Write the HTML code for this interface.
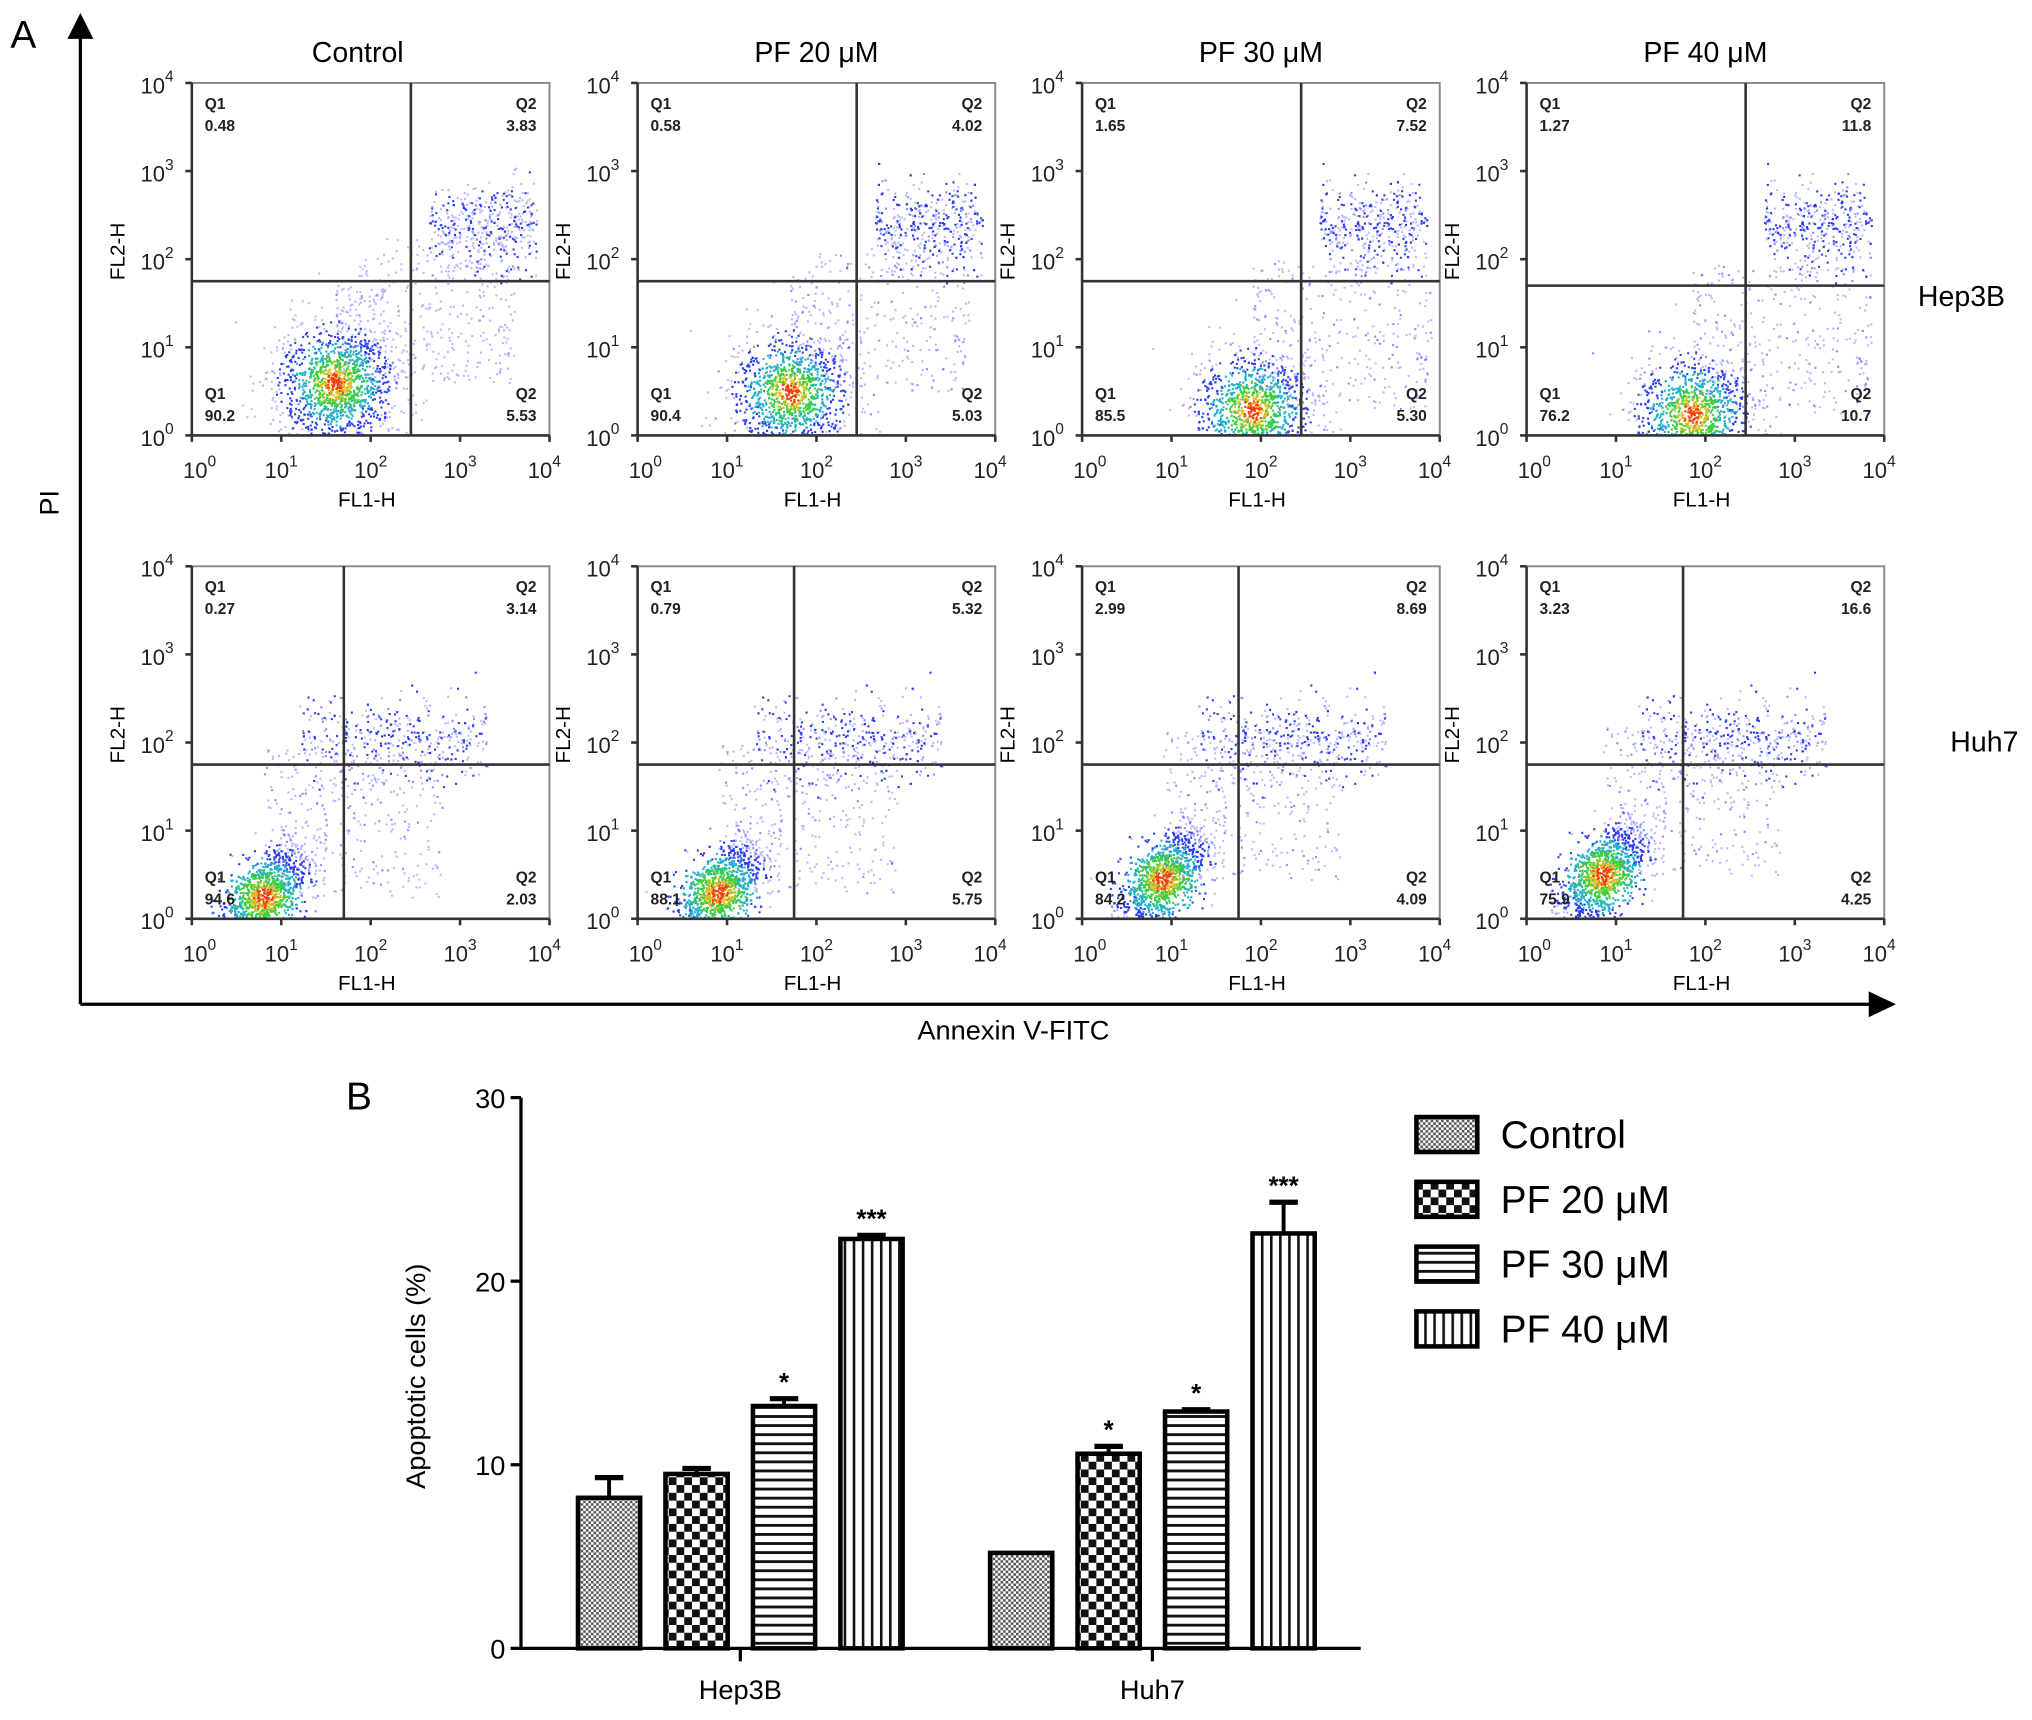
<!DOCTYPE html>
<html><head><meta charset="utf-8">
<style>
html,body{margin:0;padding:0;background:#fff;}
svg{display:block;font-family:"Liberation Sans",sans-serif;}
</style></head>
<body>
<svg id="fig" width="2032" height="1720" viewBox="0 0 1568 1327.3" xmlns="http://www.w3.org/2000/svg">
<defs>
<pattern id="pCtrl" width="4" height="4" patternUnits="userSpaceOnUse"><rect width="4" height="4" fill="#fff"/><rect width="2" height="2" fill="#555"/><rect x="2" y="2" width="2" height="2" fill="#555"/></pattern>
<pattern id="p20" width="12" height="12" patternUnits="userSpaceOnUse"><rect width="12" height="12" fill="#fff"/><rect width="6" height="6" fill="#111"/><rect x="6" y="6" width="6" height="6" fill="#111"/></pattern>
<pattern id="p30" width="8" height="7" patternUnits="userSpaceOnUse"><rect width="8" height="7" fill="#fff"/><rect y="0" width="8" height="2.2" fill="#111"/></pattern>
<pattern id="p40" width="7" height="8" patternUnits="userSpaceOnUse"><rect width="7" height="8" fill="#fff"/><rect x="0" width="2" height="8" fill="#111"/></pattern>
</defs>
<g id="panelA"></g>
<g id="panelB"></g>
</svg>
<script>
// ---------- Panel A data ----------
const conditions = ["Control","PF 20 \u03bcM","PF 30 \u03bcM","PF 40 \u03bcM"];
const cellLines = ["Hep3B","Huh7"];
const q1Upper = [["0.48","0.58","1.65","1.27"],["0.27","0.79","2.99","3.23"]];
const q2Upper = [["3.83","4.02","7.52","11.8"],["3.14","5.32","8.69","16.6"]];
const q1Lower = [["90.2","90.4","85.5","76.2"],["94.6","88.1","84.2","75.9"]];
const q2Lower = [["5.53","5.03","5.30","10.7"],["2.03","5.75","4.09","4.25"]];
// gate positions in log10 units
const gateX = [[2.45,2.45,2.45,2.45],[1.7,1.75,1.75,1.75]];
const gateY = [[1.75,1.75,1.75,1.7],[1.75,1.75,1.75,1.75]];
// main population centre (log10)
const popX = [[1.6,1.7,1.9,1.85],[0.8,0.9,0.9,0.85]];
const popY = [[0.6,0.5,0.3,0.25],[0.25,0.3,0.45,0.5]];
// ---------- Panel B data ----------
const groups = ["Hep3B","Huh7"];
const series = ["Control","PF 20 \u03bcM","PF 30 \u03bcM","PF 40 \u03bcM"];
const means = [[8.2,9.5,13.2,22.3],[5.2,10.6,12.9,22.6]];
const errs = [[1.1,0.3,0.4,0.2],[0.0,0.4,0.1,1.7]];
const stars = [["","","*","***"],["","*","*","***"]];
const yTicks = [0,10,20,30];

const NS="http://www.w3.org/2000/svg";
function mk(tag,attrs,parent,text){const e=document.createElementNS(NS,tag);for(const k in attrs)e.setAttribute(k,attrs[k]);if(text!==undefined)e.textContent=text;parent.appendChild(e);return e;}

const A=document.getElementById('panelA');
let ax=mk('line',{x1:62,y1:775,x2:62,y2:28,stroke:'#000','stroke-width':2.5},A);


mk('polygon',{points:'52,30 72,30 62,10',fill:'#000'},A);
ax=mk('line',{x1:62,y1:775,x2:1445,y2:775,stroke:'#000','stroke-width':2.5},A);


mk('polygon',{points:'1442,765 1442,785 1463,775',fill:'#000'},A);
let t=mk('text',{x:8,y:37,'font-size':30},A,'A');


t=mk('text',{x:45,y:388,'font-size':21,transform:'rotate(-90 45 388)','text-anchor':'middle'},A,'PI');


t=mk('text',{x:782,y:802,'font-size':21,'text-anchor':'middle'},A,'Annexin V-FITC');



const colLeft=[148,492,835,1178], boxW=276;
const rowTop=[64,437], boxH=272;
let seed=12345;function rnd(){seed=(seed*1103515245+12345)%2147483648;return seed/2147483648;}
function gauss(){let u=rnd()||1e-6,v=rnd();return Math.sqrt(-2*Math.log(u))*Math.cos(2*Math.PI*v);}
function heat(d){
  if(d<0.25)return 'rgba(80,80,255,0.4)';
  if(d<0.5)return '#2a3cf0';
  if(d<0.7)return '#22b0c8';
  if(d<0.85)return '#3ccf3c';
  if(d<0.95)return '#e0c020';
  return '#f04010';
}
for(let r=0;r<2;r++){
  t=mk('text',{x:r?1505:1480,y:r?580:236,'font-size':22},A,cellLines[r]);
  
  
  for(let c=0;c<4;c++){
    const L=colLeft[c],T=rowTop[r];
    const g=mk('g',{},A);
    
    
    const sx=v=>L+v/4*boxW, sy=v=>T+boxH-v/4*boxH;
    if(r===0){
      t=mk('text',{x:L+boxW/2-(c?0:10),y:48,'font-size':22,'text-anchor':'middle'},A,conditions[c]);
      
      
    }
    const dots=mk('g',{},g);
    const N=2200;
    for(let i=0;i<N;i++){
      let x,y,dens;
      const k=rnd();
      if(k<0.62){const s=(r===0?0.33:0.3);x=popX[r][c]+gauss()*s*(r?0.8:1);y=popY[r][c]+gauss()*s*(r?0.8:1);if(r)y+=(x-popX[r][c])*0.6;
        const dd=Math.hypot(x-popX[r][c],y-popY[r][c])/s;dens=Math.max(0,1-dd/2.4)+rnd()*0.15;}
      else if(k<0.82){x=gateX[r][c]+0.2+rnd()*1.2;y=(r?2.05:2.4)+gauss()*0.25;dens=rnd()*0.45;if(r){x=popX[r][c]+0.4+rnd()*2.1;}}
      else {x=popX[r][c]+rnd()*2;y=popY[r][c]+rnd()*1.7;if(!r)y=Math.min(y,x-0.5+rnd()*0.6);dens=rnd()*0.2;}
      if(x<0.05||x>3.95||y<0.02||y>3.95)continue;
      mk('rect',{x:sx(x).toFixed(1),y:sy(y).toFixed(1),width:1.6,height:1.6,fill:heat(dens)},dots);
    }
    mk('rect',{x:L,y:T,width:boxW,height:boxH,fill:'none',stroke:'#888','stroke-width':1.5},g);
    mk('line',{x1:L,y1:T,x2:L,y2:T+boxH,stroke:'#333','stroke-width':2},g);
    mk('line',{x1:L,y1:T+boxH,x2:L+boxW,y2:T+boxH,stroke:'#333','stroke-width':2},g);
    let gl=mk('line',{x1:sx(gateX[r][c]),y1:T,x2:sx(gateX[r][c]),y2:T+boxH,stroke:'#333','stroke-width':2},g);
    
    
    gl=mk('line',{x1:L,y1:sy(gateY[r][c]),x2:L+boxW,y2:sy(gateY[r][c]),stroke:'#333','stroke-width':2},g);
    
    
    for(let d=0;d<=4;d++){
      mk('line',{x1:L-5,y1:sy(d),x2:L,y2:sy(d),stroke:'#333','stroke-width':2},g);
      mk('line',{x1:sx(d),y1:T+boxH,x2:sx(d),y2:T+boxH+5,stroke:'#333','stroke-width':2},g);
      let tl=mk('text',{x:L-14,y:sy(d)+8,'font-size':17,'text-anchor':'end',fill:'#222'},g);
      tl.innerHTML='10<tspan dy="-9" font-size="12">'+d+'</tspan>';
      tl=mk('text',{x:sx(d)+(d===0?6:d===4?-4:0),y:T+boxH+33,'font-size':17,'text-anchor':'middle',fill:'#222'},g);
      tl.innerHTML='10<tspan dy="-9" font-size="12">'+d+'</tspan>';
    }
    mk('text',{x:L+boxW/2-3,y:T+boxH+55,'font-size':16,'text-anchor':'middle'},g,'FL1-H');
    mk('text',{x:L-52,y:T+130,'font-size':16,'text-anchor':'middle',transform:'rotate(-90 '+(L-52)+' '+(T+130)+')'},g,'FL2-H');
    const fs={'font-size':12,'font-weight':'bold',fill:'#222'};
    mk('text',Object.assign({x:L+10,y:T+20},fs),g,'Q1');
    mk('text',Object.assign({x:L+10,y:T+37},fs),g,q1Upper[r][c]);
    mk('text',Object.assign({x:L+boxW-10,y:T+20,'text-anchor':'end'},fs),g,'Q2');
    mk('text',Object.assign({x:L+boxW-10,y:T+37,'text-anchor':'end'},fs),g,q2Upper[r][c]);
    mk('text',Object.assign({x:L+10,y:T+boxH-28},fs),g,'Q1');
    mk('text',Object.assign({x:L+10,y:T+boxH-11},fs),g,q1Lower[r][c]);
    mk('text',Object.assign({x:L+boxW-10,y:T+boxH-28,'text-anchor':'end'},fs),g,'Q2');
    mk('text',Object.assign({x:L+boxW-10,y:T+boxH-11,'text-anchor':'end'},fs),g,q2Lower[r][c]);
  }
}

// ---------- Panel B ----------
const B=document.getElementById('panelB');
const x0=402,yBase=1272,yTop=847,yMax=30;
const ys=v=>yBase-v/yMax*(yBase-yTop);
const groupStart=[446,764], barW=48, barStep=67.5;
const fills=['url(#pCtrl)','url(#p20)','url(#p30)','url(#p40)'];
t=mk('text',{x:267,y:856,'font-size':30},B,'B');


let yax=mk('line',{x1:x0,y1:yTop,x2:x0,y2:yBase,stroke:'#000','stroke-width':2.5},B);


let xax=mk('line',{x1:x0,y1:yBase,x2:1050,y2:yBase,stroke:'#000','stroke-width':2.5},B);


yTicks.forEach(v=>{
  mk('line',{x1:x0-8,y1:ys(v),x2:x0,y2:ys(v),stroke:'#000','stroke-width':2.5},B);
  const tt=mk('text',{x:x0-12,y:ys(v)+8,'font-size':21,'text-anchor':'end'},B,String(v));
  
  
});
t=mk('text',{x:328,y:1062,'font-size':21,'text-anchor':'middle',transform:'rotate(-90 328 1062)'},B,'Apoptotic cells (%)');


groups.forEach((gname,gi)=>{
  const cx=groupStart[gi]+1.5*barStep+barW/2;
  mk('line',{x1:cx,y1:yBase,x2:cx,y2:yBase+10,stroke:'#000','stroke-width':2.5},B);
  const gl=mk('text',{x:cx,y:1311,'font-size':21,'text-anchor':'middle'},B,gname);
  
  
  series.forEach((s,si)=>{
    const bx=groupStart[gi]+si*barStep, v=means[gi][si], e=errs[gi][si];
    const mx=bx+barW/2;
    if(e>0){
      mk('line',{x1:mx,y1:ys(v),x2:mx,y2:ys(v+e),stroke:'#000','stroke-width':3},B);
      mk('line',{x1:mx-11,y1:ys(v+e),x2:mx+11,y2:ys(v+e),stroke:'#000','stroke-width':4},B);
    }
    const bar=mk('rect',{x:bx,y:ys(v),width:barW,height:yBase-ys(v),fill:fills[si],stroke:'#000','stroke-width':3.5},B);
    
    
    if(stars[gi][si]){
      const st=mk('text',{x:mx,y:ys(v+e)-6,'font-size':20,'font-weight':'bold','text-anchor':'middle'},B,stars[gi][si]);
      
      
    }
  });
});
series.forEach((s,si)=>{
  const ly=875+si*50;
  const lg=mk('g',{},B);
  
  
  mk('rect',{x:1093,y:ly-13,width:47,height:27,fill:fills[si],stroke:'#000','stroke-width':3.5},lg);
  mk('text',{x:1158,y:ly+11,'font-size':30},lg,s);
});
</script>
</body></html>
